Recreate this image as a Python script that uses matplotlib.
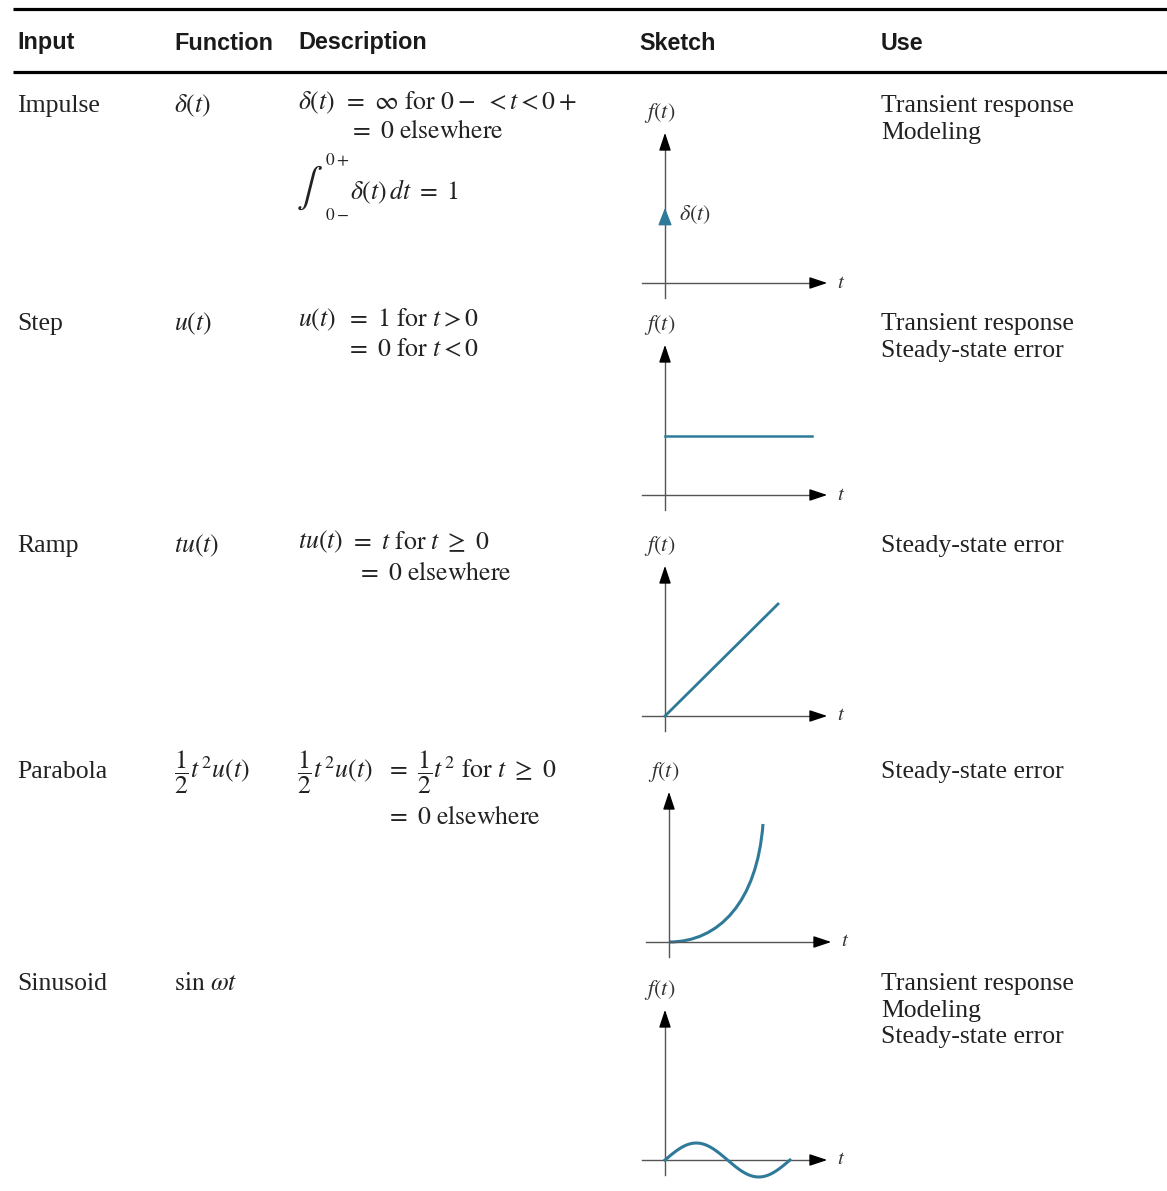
import numpy as np
import matplotlib
matplotlib.use('Agg')
import matplotlib.pyplot as plt
from matplotlib.path import Path
from matplotlib.patches import PathPatch

plt.rcParams['mathtext.fontset'] = 'stix'
plt.rcParams['font.family'] = ['Liberation Serif', 'DejaVu Serif']

# table content
headers = ['Input', 'Function', 'Description', 'Sketch', 'Use']
inputs = ['Impulse', 'Step', 'Ramp', 'Parabola', 'Sinusoid']
functions = [r'$\delta(t)$', r'$u(t)$', r'$tu(t)$',
             r'$\dfrac{1}{2}t^{\,2}u(t)$', r'$\sin\,\omega t$']
uses = [['Transient response', 'Modeling'],
        ['Transient response', 'Steady-state error'],
        ['Steady-state error'],
        ['Steady-state error'],
        ['Transient response', 'Modeling', 'Steady-state error']]

# sketch values (axis units: 1 unit ~ 100 px)
impulse_height = 0.78
step_level = 0.59
step_end = 1.47
ramp_end = [1.13, 1.12]
parabola_ctrl = [(0.0, 0.0), (0.5, 0.0), (0.88, 0.40), (0.94, 1.18)]
sine_period = 1.25
sine_amp = 0.17

W, H = 1167, 1191
fig = plt.figure(figsize=(W / 100, H / 100), dpi=100)
ax = fig.add_axes([0, 0, 1, 1])
ax.set_xlim(0, W)
ax.set_ylim(H, 0)
ax.axis('off')

# rules
ax.plot([13, W], [9, 9], color='black', lw=2.3, solid_capstyle='butt')
ax.plot([13, W], [72, 72], color='black', lw=2.3, solid_capstyle='butt')

col_x = [17, 174, 298, 639, 881]
for x, h in zip(col_x, headers):
    ax.text(x, 43, h, fontsize=16.8, fontweight='bold', family='Liberation Sans',
            ha='left', va='center', color='#1a1a1a')

row_y = [106, 324, 546, 772, 984]
fs = 18.5
line_gap = 26.5
txt = '#222222'
for i in range(5):
    ax.text(col_x[0], row_y[i], inputs[i], fontsize=fs, va='center', color=txt)
    ax.text(col_x[1], row_y[i], functions[i], fontsize=fs, va='center', color=txt)
    for j, u in enumerate(uses[i]):
        ax.text(col_x[4], row_y[i] + j * line_gap, u, fontsize=fs, va='center',
                color=txt)

# descriptions
desc = [
    (298, 103, r'$\delta(t)$'),
    (343, 103, r'$=\ \infty\ \mathrm{for}\ 0-\ < t < 0+$'),
    (349, 132, r'$=\ 0\ \mathrm{elsewhere}$'),
    (350, 192, r'$\delta(t)\,dt\ =\ 1$'),
    (298, 320, r'$u(t)$'),
    (346, 320, r'$=\ 1\ \mathrm{for}\ t > 0$'),
    (346, 350, r'$=\ 0\ \mathrm{for}\ t < 0$'),
    (298, 542, r'$tu(t)$'),
    (350, 542, r'$=\ t\ \mathrm{for}\ t\ \geq\ 0$'),
    (357, 573, r'$=\ 0\ \mathrm{elsewhere}$'),
    (297, 772, r'$\dfrac{1}{2}t^{\,2}u(t)$'),
    (386, 772, r'$=\ \dfrac{1}{2}t^{\,2}\ \mathrm{for}\ t\ \geq\ 0$'),
    (386, 818, r'$=\ 0\ \mathrm{elsewhere}$'),
]
for x, y, s in desc:
    ax.text(x, y, s, fontsize=fs, va='center', color=txt)

# integral sign with limits
ax.text(296, 188, r'$\int$', fontsize=28, va='center', color=txt)
ax.text(325, 161, r'$0+$', fontsize=12.5, va='center', color=txt)
ax.text(325, 216, r'$0-$', fontsize=12.5, va='center', color=txt)

# sketches
origins = [(665, 283), (665, 495), (665, 716), (669, 942), (665, 1160)]
curve_color = '#2f7a99'
axis_color = '#555555'


def sketch_axes(ox, oy):
    a = fig.add_axes([(ox - 30) / W, (H - (oy + 25)) / H, 230 / W, 225 / H])
    a.set_xlim(-0.30, 2.0)
    a.set_ylim(-0.25, 2.0)
    a.patch.set_alpha(0)
    a.axis('off')
    a.plot([0, 0], [-0.15, 1.45], color=axis_color, lw=1.0)
    a.plot([-0.23, 1.55], [0, 0], color=axis_color, lw=1.0)
    a.annotate('', xy=(0, 1.53), xytext=(0, 1.38),
               arrowprops=dict(arrowstyle='-|>,head_length=0.9,head_width=0.3',
                               color='black', lw=1.0, mutation_scale=12))
    a.annotate('', xy=(1.65, 0), xytext=(1.50, 0),
               arrowprops=dict(arrowstyle='-|>,head_length=0.9,head_width=0.3',
                               color='black', lw=1.0, mutation_scale=12))
    a.text(-0.21, 1.70, r'$f(t)$', fontsize=16, va='center', ha='left', color='#333333')
    a.text(1.72, 0, r'$t$', fontsize=15, va='center', ha='left', color='#333333')
    return a


axs = [sketch_axes(ox, oy) for ox, oy in origins]

# impulse
axs[0].annotate('', xy=(0, impulse_height), xytext=(0, impulse_height - 0.12),
                arrowprops=dict(arrowstyle='-|>,head_length=0.9,head_width=0.35',
                                color=curve_color, lw=1.0, mutation_scale=12))
axs[0].text(0.14, 0.68, r'$\delta(t)$', fontsize=16, va='center', color='#333333')

# step
axs[1].plot([0, step_end], [step_level, step_level], color=curve_color, lw=1.8)

# ramp
axs[2].plot([0, ramp_end[0]], [0, ramp_end[1]], color=curve_color, lw=2.0)

# parabola
path = Path(parabola_ctrl, [Path.MOVETO, Path.CURVE4, Path.CURVE4, Path.CURVE4])
axs[3].add_patch(PathPatch(path, fc='none', ec=curve_color, lw=2.2))

# sinusoid
t = np.linspace(0, sine_period, 200)
axs[4].plot(t, sine_amp * np.sin(2 * np.pi * t / sine_period), color=curve_color, lw=2.2)

fig.savefig('out.png', dpi=100)
